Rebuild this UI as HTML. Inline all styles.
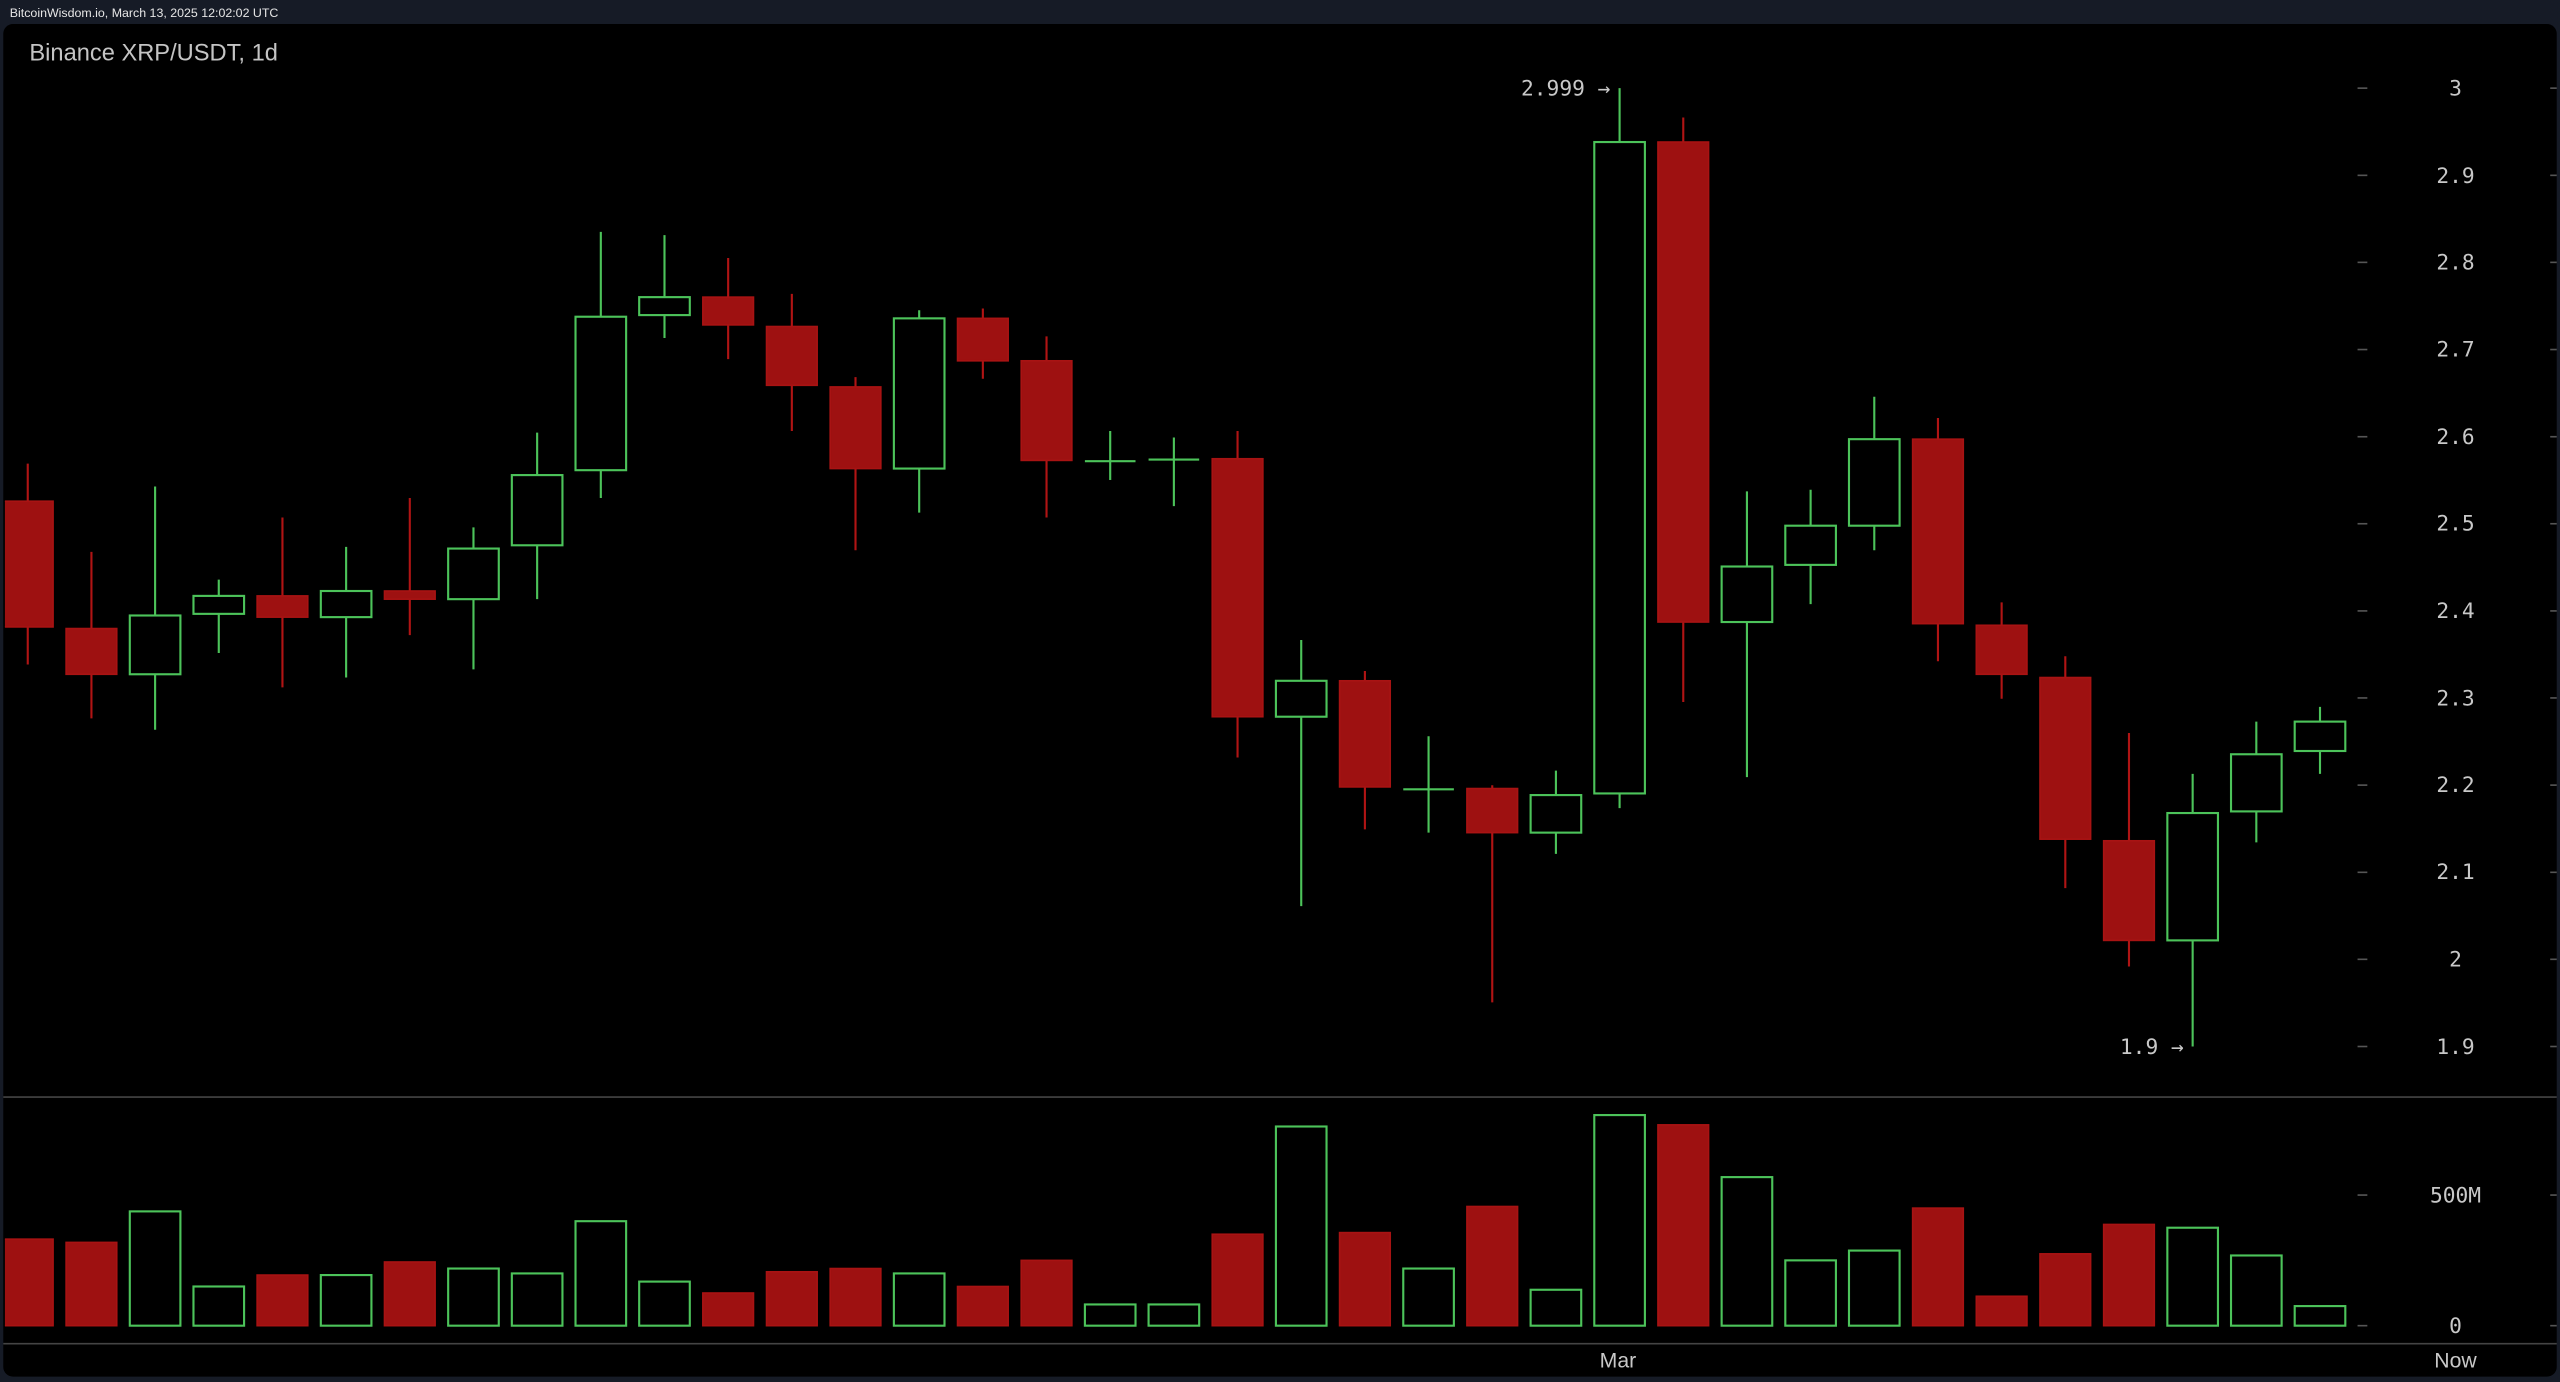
<!DOCTYPE html>
<html><head><meta charset="utf-8"><style>
html,body{margin:0;padding:0;background:#161b26;}
svg{display:block}
.r line{stroke:#b01414;stroke-width:1.3}
.r rect{fill:#9e1111;stroke:#a81313;stroke-width:1}
.g line{stroke:#4cc35a;stroke-width:1.3}
.g rect{fill:#000;stroke:#4cc35a;stroke-width:1.3}
.ax{font-family:"DejaVu Sans Mono","Liberation Mono",monospace;font-size:13px;fill:#c8c8c8;text-anchor:middle}
.tk{stroke:#555;stroke-width:1}
</style></head><body>
<svg width="2560" height="1382" viewBox="0 0 1568 846.5" preserveAspectRatio="none">
<rect x="0" y="0" width="1568" height="846.5" fill="#161b26"/>
<text x="6" y="10.5" font-family="Liberation Sans,sans-serif" font-size="7.6" fill="#e6e6e6">BitcoinWisdom.io, March 13, 2025 12:02:02 UTC</text>
<rect x="2" y="14.7" width="1564" height="828.5" rx="6" fill="#000"/>
<clipPath id="cp"><rect x="3" y="15" width="1562" height="828"/></clipPath>
<text x="18" y="37" font-family="Liberation Sans,sans-serif" font-size="14.5" fill="#c4c4c4">Binance XRP/USDT, 1d</text>
<line x1="2" y1="672" x2="1566" y2="672" stroke="#444" stroke-width="1"/>
<line x1="2" y1="823" x2="1566" y2="823" stroke="#444" stroke-width="1"/>
<g class="tk">
<line x1="1444" y1="54" x2="1450" y2="54"/><line x1="1562" y1="54" x2="1566" y2="54"/>
<line x1="1444" y1="107.4" x2="1450" y2="107.4"/><line x1="1562" y1="107.4" x2="1566" y2="107.4"/>
<line x1="1444" y1="160.7" x2="1450" y2="160.7"/><line x1="1562" y1="160.7" x2="1566" y2="160.7"/>
<line x1="1444" y1="214.1" x2="1450" y2="214.1"/><line x1="1562" y1="214.1" x2="1566" y2="214.1"/>
<line x1="1444" y1="267.5" x2="1450" y2="267.5"/><line x1="1562" y1="267.5" x2="1566" y2="267.5"/>
<line x1="1444" y1="320.8" x2="1450" y2="320.8"/><line x1="1562" y1="320.8" x2="1566" y2="320.8"/>
<line x1="1444" y1="374.2" x2="1450" y2="374.2"/><line x1="1562" y1="374.2" x2="1566" y2="374.2"/>
<line x1="1444" y1="427.5" x2="1450" y2="427.5"/><line x1="1562" y1="427.5" x2="1566" y2="427.5"/>
<line x1="1444" y1="480.9" x2="1450" y2="480.9"/><line x1="1562" y1="480.9" x2="1566" y2="480.9"/>
<line x1="1444" y1="534.3" x2="1450" y2="534.3"/><line x1="1562" y1="534.3" x2="1566" y2="534.3"/>
<line x1="1444" y1="587.6" x2="1450" y2="587.6"/><line x1="1562" y1="587.6" x2="1566" y2="587.6"/>
<line x1="1444" y1="641" x2="1450" y2="641"/><line x1="1562" y1="641" x2="1566" y2="641"/>
<line x1="1444" y1="732" x2="1450" y2="732"/><line x1="1562" y1="732" x2="1566" y2="732"/>
<line x1="1444" y1="812" x2="1450" y2="812"/><line x1="1562" y1="812" x2="1566" y2="812"/>
</g>
<g class="ax">
<text x="1504" y="58.5">3</text><text x="1504" y="112">2.9</text><text x="1504" y="165">2.8</text>
<text x="1504" y="218.5">2.7</text><text x="1504" y="272">2.6</text><text x="1504" y="325">2.5</text>
<text x="1504" y="378.5">2.4</text><text x="1504" y="432">2.3</text><text x="1504" y="485">2.2</text>
<text x="1504" y="538.5">2.1</text><text x="1504" y="592">2</text><text x="1504" y="645.5">1.9</text>
<text x="1504" y="736.5">500M</text><text x="1504" y="816.5">0</text>
<text x="959" y="58.5">2.999 →</text><text x="1318" y="645.5">1.9 →</text>
<text x="991" y="837.5" font-family="Liberation Sans,sans-serif" font-size="13">Mar</text>
<text x="1504" y="837.5" font-family="Liberation Sans,sans-serif" font-size="13">Now</text>
</g>
<g clip-path="url(#cp)">
<g class="r">
<line x1="17" y1="284" x2="17" y2="407"/><rect x="1.5" y="307" width="31" height="77"/>
<line x1="56" y1="338" x2="56" y2="440"/><rect x="40.5" y="385" width="31" height="28"/>
<line x1="173" y1="317" x2="173" y2="421"/><rect x="157.5" y="365" width="31" height="13"/>
<line x1="251" y1="305" x2="251" y2="389"/><rect x="235.5" y="362" width="31" height="5"/>
<line x1="446" y1="158" x2="446" y2="220"/><rect x="430.5" y="182" width="31" height="17"/>
<line x1="485" y1="180" x2="485" y2="264"/><rect x="469.5" y="200" width="31" height="36"/>
<line x1="524" y1="231" x2="524" y2="337"/><rect x="508.5" y="237" width="31" height="50"/>
<line x1="602" y1="189" x2="602" y2="232"/><rect x="586.5" y="195" width="31" height="26"/>
<line x1="641" y1="206" x2="641" y2="317"/><rect x="625.5" y="221" width="31" height="61"/>
<line x1="758" y1="264" x2="758" y2="464"/><rect x="742.5" y="281" width="31" height="158"/>
<line x1="836" y1="411" x2="836" y2="508"/><rect x="820.5" y="417" width="31" height="65"/>
<line x1="914" y1="481" x2="914" y2="614"/><rect x="898.5" y="483" width="31" height="27"/>
<line x1="1031" y1="72" x2="1031" y2="430"/><rect x="1015.5" y="87" width="31" height="294"/>
<line x1="1187" y1="256" x2="1187" y2="405"/><rect x="1171.5" y="269" width="31" height="113"/>
<line x1="1226" y1="369" x2="1226" y2="428"/><rect x="1210.5" y="383" width="31" height="30"/>
<line x1="1265" y1="402" x2="1265" y2="544"/><rect x="1249.5" y="415" width="31" height="99"/>
<line x1="1304" y1="449" x2="1304" y2="592"/><rect x="1288.5" y="515" width="31" height="61"/>
<!-- volume red -->
<rect x="1.5" y="759" width="31" height="53"/><rect x="40.5" y="761" width="31" height="51"/>
<rect x="157.5" y="781" width="31" height="31"/><rect x="235.5" y="773" width="31" height="39"/>
<rect x="430.5" y="792" width="31" height="20"/><rect x="469.5" y="779" width="31" height="33"/>
<rect x="508.5" y="777" width="31" height="35"/><rect x="586.5" y="788" width="31" height="24"/>
<rect x="625.5" y="772" width="31" height="40"/><rect x="742.5" y="756" width="31" height="56"/>
<rect x="820.5" y="755" width="31" height="57"/><rect x="898.5" y="739" width="31" height="73"/>
<rect x="1015.5" y="689" width="31" height="123"/><rect x="1171.5" y="740" width="31" height="72"/>
<rect x="1210.5" y="794" width="31" height="18"/><rect x="1249.5" y="768" width="31" height="44"/>
<rect x="1288.5" y="750" width="31" height="62"/>
</g>
<g class="g">
<line x1="95" y1="298" x2="95" y2="447"/><rect x="79.5" y="377" width="31" height="36"/>
<line x1="134" y1="355" x2="134" y2="400"/><rect x="118.5" y="365" width="31" height="11"/>
<line x1="212" y1="335" x2="212" y2="415"/><rect x="196.5" y="362" width="31" height="16"/>
<line x1="290" y1="323" x2="290" y2="410"/><rect x="274.5" y="336" width="31" height="31"/>
<line x1="329" y1="265" x2="329" y2="367"/><rect x="313.5" y="291" width="31" height="43"/>
<line x1="368" y1="142" x2="368" y2="305"/><rect x="352.5" y="194" width="31" height="94"/>
<line x1="407" y1="144" x2="407" y2="207"/><rect x="391.5" y="182" width="31" height="11"/>
<line x1="563" y1="190" x2="563" y2="314"/><rect x="547.5" y="195" width="31" height="92"/>
<line x1="680" y1="264" x2="680" y2="294"/><line x1="664.5" y1="282.5" x2="695.5" y2="282.5"/>
<line x1="719" y1="268" x2="719" y2="310"/><line x1="703.5" y1="281.5" x2="734.5" y2="281.5"/>
<line x1="797" y1="392" x2="797" y2="555"/><rect x="781.5" y="417" width="31" height="22"/>
<line x1="875" y1="451" x2="875" y2="510"/><line x1="859.5" y1="483.5" x2="890.5" y2="483.5"/>
<line x1="953" y1="472" x2="953" y2="523"/><rect x="937.5" y="487" width="31" height="23"/>
<line x1="992" y1="54" x2="992" y2="495"/><rect x="976.5" y="87" width="31" height="399"/>
<line x1="1070" y1="301" x2="1070" y2="476"/><rect x="1054.5" y="347" width="31" height="34"/>
<line x1="1109" y1="300" x2="1109" y2="370"/><rect x="1093.5" y="322" width="31" height="24"/>
<line x1="1148" y1="243" x2="1148" y2="337"/><rect x="1132.5" y="269" width="31" height="53"/>
<line x1="1343" y1="474" x2="1343" y2="641"/><rect x="1327.5" y="498" width="31" height="78"/>
<line x1="1382" y1="442" x2="1382" y2="516"/><rect x="1366.5" y="462" width="31" height="35"/>
<line x1="1421" y1="433" x2="1421" y2="474"/><rect x="1405.5" y="442" width="31" height="18"/>
<!-- volume green -->
<rect x="79.5" y="742" width="31" height="70"/><rect x="118.5" y="788" width="31" height="24"/>
<rect x="196.5" y="781" width="31" height="31"/><rect x="274.5" y="777" width="31" height="35"/>
<rect x="313.5" y="780" width="31" height="32"/><rect x="352.5" y="748" width="31" height="64"/>
<rect x="391.5" y="785" width="31" height="27"/><rect x="547.5" y="780" width="31" height="32"/>
<rect x="664.5" y="799" width="31" height="13"/><rect x="703.5" y="799" width="31" height="13"/>
<rect x="781.5" y="690" width="31" height="122"/><rect x="859.5" y="777" width="31" height="35"/>
<rect x="937.5" y="790" width="31" height="22"/><rect x="976.5" y="683" width="31" height="129"/>
<rect x="1054.5" y="721" width="31" height="91"/><rect x="1093.5" y="772" width="31" height="40"/>
<rect x="1132.5" y="766" width="31" height="46"/><rect x="1327.5" y="752" width="31" height="60"/>
<rect x="1366.5" y="769" width="31" height="43"/><rect x="1405.5" y="800" width="31" height="12"/>
</g>
</g>
</svg>
</body></html>
